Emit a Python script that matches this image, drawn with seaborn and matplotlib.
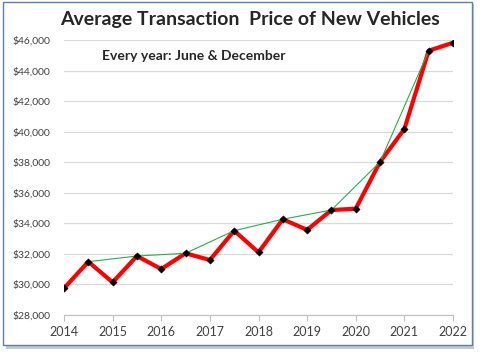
import seaborn as sns
import matplotlib.pyplot as plt
import pandas as pd
from matplotlib.patches import Rectangle
from matplotlib.ticker import FuncFormatter

# June & December readings, years as decimals (x.5 = June)
periods = [2014, 2014.5, 2015, 2015.5, 2016, 2016.5, 2017, 2017.5, 2018,
           2018.5, 2019, 2019.5, 2020, 2020.5, 2021, 2021.5, 2022]
prices = [29750, 31490, 30140, 31860, 31010, 32040, 31600, 33520, 32100,
          34270, 33570, 34870, 34960, 38020, 40175, 45300, 45820]
year_ticks = [2014, 2015, 2016, 2017, 2018, 2019, 2020, 2021, 2022]
price_ticks = list(range(28000, 46001, 2000))

df = pd.DataFrame({"period": periods, "price": prices})
trend = df[(df["period"] % 1 == 0.5)]

sns.set_style("white")
plt.rcParams["font.family"] = ["Lato", "DejaVu Sans"]

fig = plt.figure(figsize=(4.81, 3.55), dpi=100)
ax = fig.add_axes([64 / 481, 1 - 315 / 355, 389 / 481, 275 / 355])

# frame with a soft shadow, like the pasted screenshot
fig.patches.append(Rectangle((6 / 481, 1 - 349 / 355), 468 / 481, 345 / 355,
                             transform=fig.transFigure, facecolor="#c8c8c8",
                             edgecolor="none", zorder=-2))
fig.patches.append(Rectangle((3 / 481, 1 - 345 / 355), 469 / 481, 343 / 355,
                             transform=fig.transFigure, facecolor="white",
                             edgecolor="#5a7fb5", linewidth=1, zorder=-1))

sns.lineplot(data=df, x="period", y="price", ax=ax, color="#ff0000",
             linewidth=3, zorder=3)
sns.lineplot(data=trend, x="period", y="price", ax=ax, color="#22b14c",
             linewidth=0.8, zorder=4)
sns.scatterplot(data=df, x="period", y="price", ax=ax, color="black",
                marker="D", s=14, edgecolor="black", zorder=5)

ax.set_xlim(2014, 2022)
ax.set_ylim(28000, 46000)
ax.set_xticks(year_ticks)
ax.set_yticks(price_ticks)
ax.yaxis.set_major_formatter(FuncFormatter(lambda v, p: f"${v:,.0f}"))
ax.set_xlabel("")
ax.set_ylabel("")
ax.grid(axis="y", color="#d9d9d9", linewidth=0.9)
ax.set_facecolor("none")
for side in ["top", "right", "left"]:
    ax.spines[side].set_visible(False)
ax.spines["bottom"].set_color("#bfbfbf")
ax.tick_params(axis="x", length=4, color="#bfbfbf", labelsize=9,
               labelcolor="#404040", pad=4, direction="out", bottom=True)
ax.tick_params(axis="y", length=0, labelsize=7.5, labelcolor="#404040", pad=10)

fig.text(0.52, 1 - 20 / 355, "Average Transaction  Price of New Vehicles",
         ha="center", va="center", fontsize=14, fontweight="bold")
fig.text(102 / 481, 1 - 56 / 355, "Every year: June & December",
         ha="left", va="center", fontsize=10, fontweight="bold")

fig.savefig("out.png", dpi=100)
